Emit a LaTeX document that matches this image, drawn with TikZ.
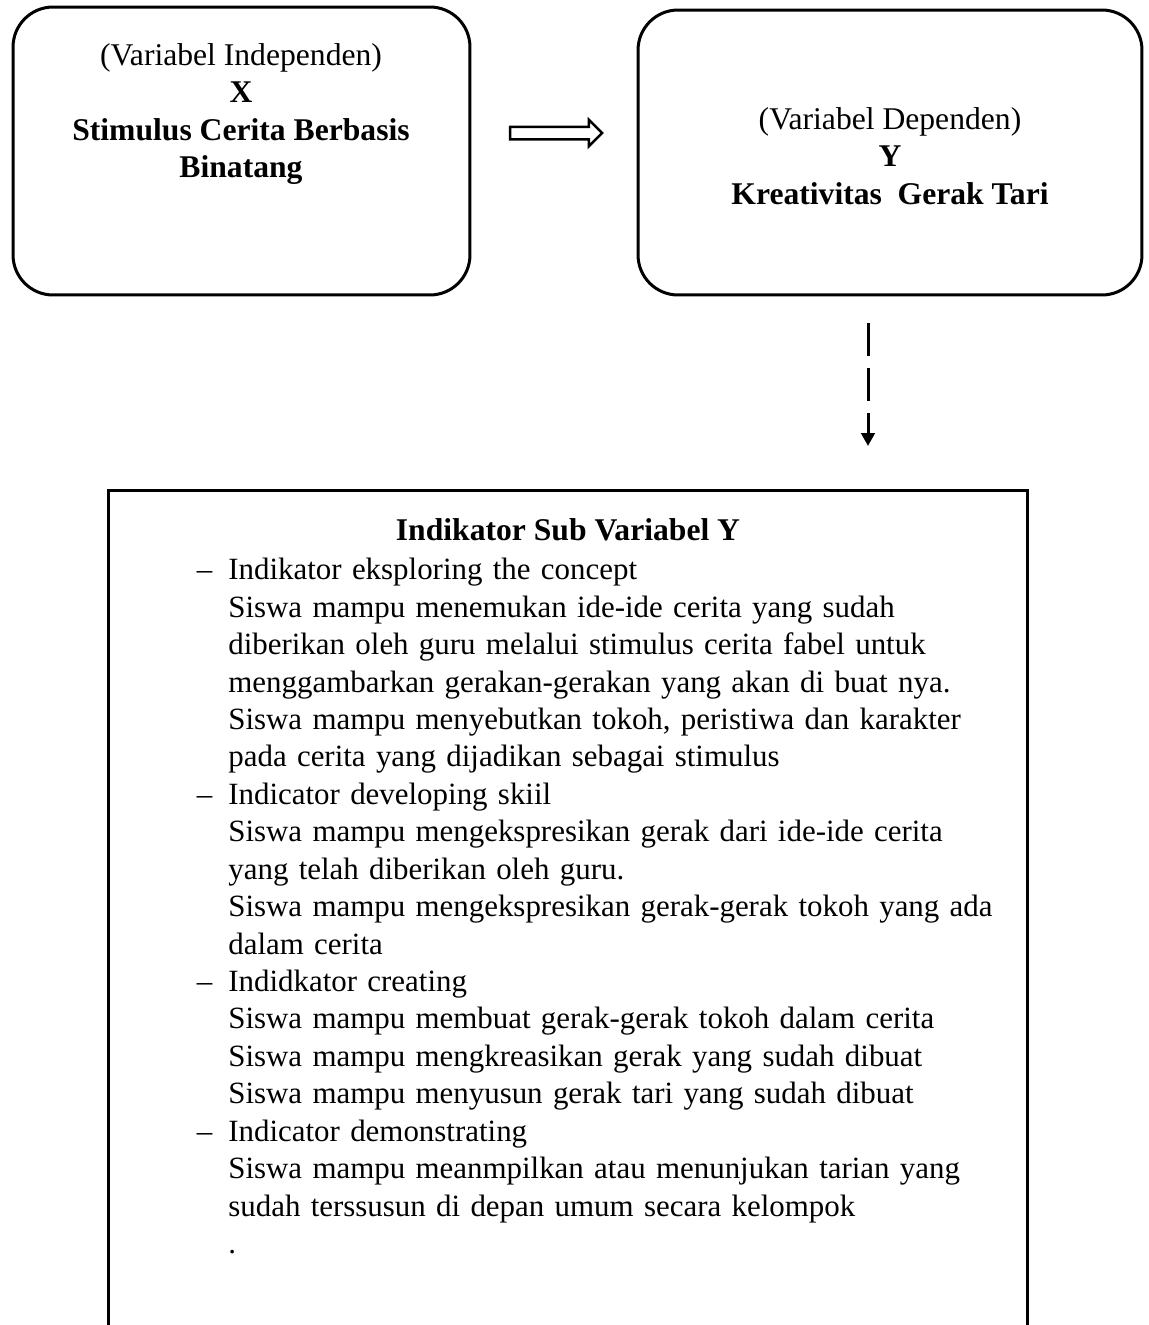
\documentclass[tikz,border=0pt]{standalone}
\usepackage{fontspec}
\setmainfont{Liberation Serif}
\usetikzlibrary{shapes.arrows,arrows.meta}

\newcommand{\itemdash}{\leavevmode\llap{--\hspace{0.32cm}}}

\tikzset{
  varbox/.style={draw, line width=0.06cm, rounded corners=0.8cm},
  txt/.style={font=\fontsize{18}{21.3}\selectfont, inner sep=0pt},
}

\begin{document}
\begin{tikzpicture}[x=0.02cm, y=-0.02cm]
        \useasboundingbox (0,0) rectangle (1149,1325);

        \node[varbox, minimum width=9.14cm, minimum height=5.76cm] (1) at (241.5,151) {};
        \node[varbox, minimum width=10.08cm, minimum height=5.7cm] (2) at (890,152.5) {};
        \node[draw, line width=0.06cm, minimum width=18.4cm, minimum height=17.2cm] (4) at (568,920) {};

        \node[txt, align=center, anchor=north] (1t) at (241,43)
          {(Variabel Independen)\\ \textbf{X}\\ \textbf{Stimulus Cerita Berbasis}\\ \textbf{Binatang}};
        \node[txt, align=center, anchor=north] (2t) at (890,107)
          {(Variabel Dependen)\\ \textbf{Y}\\ \textbf{Kreativitas\ \ Gerak Tari}};

        \node[single arrow, draw, line width=0.05cm, inner sep=0.1cm, minimum height=1.84cm,
              single arrow head extend=0.14cm] (3) at (553,133) {};

        \coordinate (5) at (868,323);
        \coordinate (6) at (868,446);
        \draw[line width=0.06cm, dash pattern=on 0.66cm off 0.24cm, -{Triangle[length=0.26cm,width=0.27cm]}] (5) -- (6);

        \node[txt, anchor=base] (4t) at (568,540) {\textbf{Indikator Sub Variabel Y}};
        \node[txt, font=\fontsize{17.6}{21.3}\selectfont, align=left, anchor=north west, text width=16cm] (4l) at (228,558)
          {\itemdash Indikator eksploring the concept\\
           Siswa mampu menemukan ide-ide cerita yang sudah\\
           diberikan oleh guru melalui stimulus cerita fabel untuk\\
           menggambarkan gerakan-gerakan yang akan di buat nya.\\
           Siswa mampu menyebutkan tokoh, peristiwa dan karakter\\
           pada cerita yang dijadikan sebagai stimulus\\
           \itemdash Indicator developing skiil\\
           Siswa mampu mengekspresikan gerak dari ide-ide cerita\\
           yang telah diberikan oleh guru.\\
           Siswa mampu mengekspresikan gerak-gerak tokoh yang ada\\
           dalam cerita\\
           \itemdash Indidkator creating\\
           Siswa mampu membuat gerak-gerak tokoh dalam cerita\\
           Siswa mampu mengkreasikan gerak yang sudah dibuat\\
           Siswa mampu menyusun gerak tari yang sudah dibuat\\
           \itemdash Indicator demonstrating\\
           Siswa mampu meanmpilkan atau menunjukan tarian yang\\
           sudah terssusun di depan umum secara kelompok\\
           .};
      \end{tikzpicture}
\end{document}
